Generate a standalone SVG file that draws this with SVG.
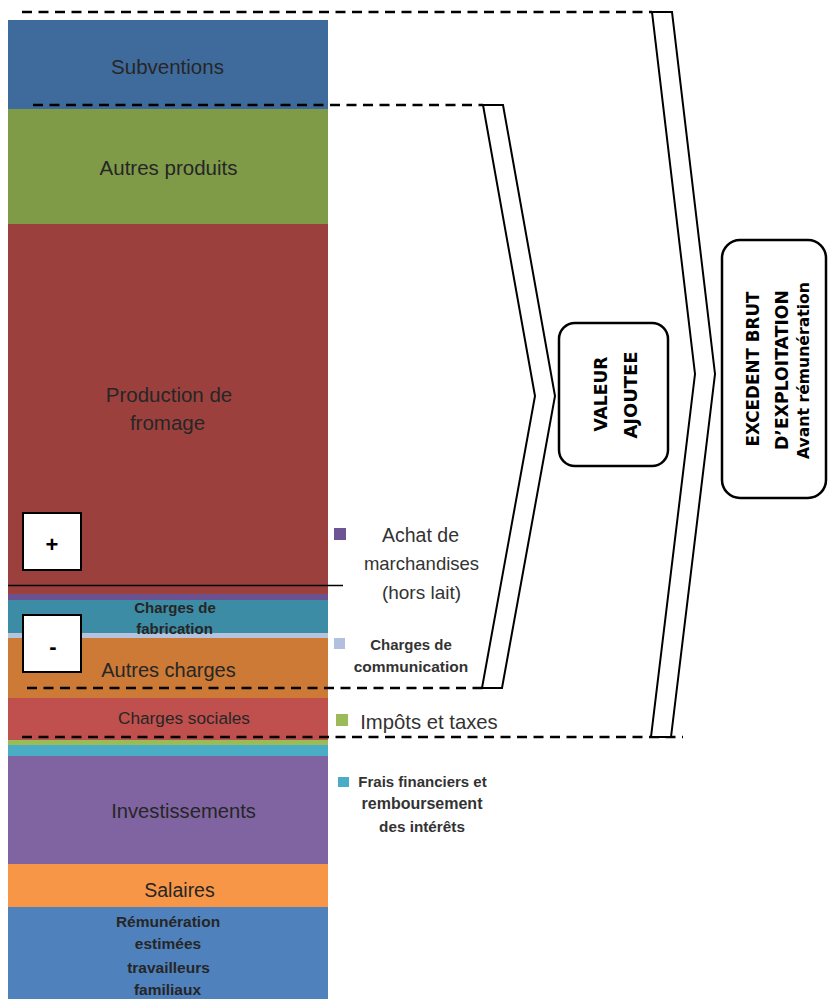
<svg xmlns="http://www.w3.org/2000/svg" width="828" height="999" viewBox="0 0 828 999">
<style>
  .lbl{font-family:"Liberation Sans",Arial,sans-serif;fill:#262626;text-anchor:middle}
  .b{font-weight:bold}
  .leg{font-family:"Liberation Sans",Arial,sans-serif;fill:#333333;text-anchor:middle}
  .vt{font-family:"DejaVu Sans","Liberation Sans",sans-serif;font-weight:bold;fill:#000;text-anchor:middle}
  .dash{stroke:#000;stroke-width:2.6;stroke-dasharray:10 6.5;fill:none}
  .chev{fill:#fff;stroke:#000;stroke-width:2;stroke-linejoin:miter}
  .box{fill:#fff;stroke:#000;stroke-width:2.5}
  .sign{fill:#fff;stroke:#000;stroke-width:2}
</style>
<rect width="828" height="999" fill="#fff"/>

<g id="bar">
  <g id="subventions"><rect x="8" y="20" width="320" height="89" fill="#3F6B9C"/><text class="lbl" x="167.5" y="74" font-size="20.5">Subventions</text></g>
  <g id="autres-produits"><rect x="8" y="109" width="320" height="115" fill="#7F9B48"/><text class="lbl" x="168.5" y="175" font-size="20.5">Autres produits</text></g>
  <g id="production-fromage"><rect x="8" y="224" width="320" height="370" fill="#9C403E"/><text class="lbl" x="169" y="402" font-size="20.5">Production de</text><text class="lbl" x="167.5" y="430" font-size="20.5">fromage</text></g>
  <g id="achat-marchandises-band"><rect x="8" y="594" width="320" height="6" fill="#6B5190"/></g>
  <g id="charges-fabrication"><rect x="8" y="600" width="320" height="33" fill="#3D8CA5"/></g>
  <g id="charges-communication-band"><rect x="8" y="633" width="320" height="5" fill="#B4C3DE"/></g>
  <g id="autres-charges"><rect x="8" y="638" width="320" height="60" fill="#CC7A36"/><text class="lbl" x="168.5" y="677" font-size="20">Autres charges</text></g>
  <g id="charges-fabrication-text"><text class="lbl b" x="175" y="613" font-size="15">Charges de</text><text class="lbl b" x="174.5" y="634" font-size="15">fabrication</text></g>
  <g id="charges-sociales"><rect x="8" y="698" width="320" height="42" fill="#C0504D"/><text class="lbl" x="184" y="724" font-size="17.2">Charges sociales</text></g>
  <g id="impots-band"><rect x="8" y="740" width="320" height="5" fill="#9BBB59"/></g>
  <g id="frais-band"><rect x="8" y="745" width="320" height="11" fill="#4BACC6"/></g>
  <g id="investissements"><rect x="8" y="756" width="320" height="108" fill="#8064A2"/><text class="lbl" x="183.5" y="818" font-size="20.2">Investissements</text></g>
  <g id="salaires"><rect x="8" y="864" width="320" height="43" fill="#F79646"/><text class="lbl" x="179.5" y="897" font-size="19.5">Salaires</text></g>
  <g id="remuneration"><rect x="8" y="907" width="320" height="92" fill="#4F81BD"/>
    <text class="lbl b" x="168" y="927" font-size="15.5">Rémunération</text>
    <text class="lbl b" x="168" y="949" font-size="15.5">estimées</text>
    <text class="lbl b" x="168.5" y="973" font-size="15.5">travailleurs</text>
    <text class="lbl b" x="167.5" y="995" font-size="15.5">familiaux</text>
  </g>
</g>

<g id="plus"><rect class="sign" x="23" y="513" width="58" height="57"/><text x="52" y="552" font-family="Liberation Sans,Arial,sans-serif" font-weight="bold" font-size="22" text-anchor="middle">+</text></g>
<g id="minus"><rect class="sign" x="23" y="615" width="58" height="57"/><text x="53" y="654" font-family="Liberation Sans,Arial,sans-serif" font-weight="bold" font-size="22" text-anchor="middle">-</text></g>

<g id="legend">
  <g id="leg-achat"><rect x="334" y="528" width="12" height="12" fill="#6E5494"/>
    <text class="leg" x="420.5" y="541.5" font-size="19.5">Achat de</text>
    <text class="leg" x="421.5" y="570" font-size="18.5">marchandises</text>
    <text class="leg" x="421.5" y="598.5" font-size="19">(hors lait)</text></g>
  <g id="leg-communication"><rect x="334" y="638" width="11" height="11" fill="#B0C0DE"/>
    <text class="leg b" x="411" y="650" font-size="15">Charges de</text>
    <text class="leg b" x="411" y="672" font-size="15.5">communication</text></g>
  <g id="leg-impots"><rect x="336" y="714" width="12" height="12" fill="#9BBB59"/>
    <text class="leg" x="429" y="729" font-size="20.3">Impôts et taxes</text></g>
  <g id="leg-frais"><rect x="338" y="777" width="11" height="10" fill="#4BACC6"/>
    <text class="leg b" x="422.5" y="787" font-size="15">Frais financiers et</text>
    <text class="leg b" x="422" y="809" font-size="16">remboursement</text>
    <text class="leg b" x="422" y="832" font-size="15.3">des intérêts</text></g>
</g>

<g id="connectors">
  <line class="dash" x1="22" y1="12" x2="652" y2="12"/>
  <line class="dash" x1="33" y1="105" x2="483" y2="105"/>
  <line class="dash" x1="27" y1="688" x2="483" y2="688"/>
  <line class="dash" x1="22" y1="737" x2="683" y2="737"/>
  <line x1="8" y1="585.5" x2="343" y2="585.5" stroke="#000" stroke-width="1.6"/>
</g>

<g id="brace-va"><polygon class="chev" points="483,105 503,105 555,396 502,688 482,688 535,396"/></g>
<g id="brace-ebe"><polygon class="chev" points="652,12 672,12 715,374 671,737 651,737 695,374"/></g>

<g id="valeur-ajoutee">
  <rect class="box" x="559" y="323" width="109" height="143" rx="16"/>
  <text class="vt" transform="translate(607,394) rotate(-90)" font-size="18" textLength="75" lengthAdjust="spacingAndGlyphs">VALEUR</text>
  <text class="vt" transform="translate(637,395) rotate(-90)" font-size="18" textLength="87" lengthAdjust="spacingAndGlyphs">AJOUTEE</text>
</g>

<g id="ebe">
  <rect class="box" x="722" y="240" width="104" height="258" rx="18"/>
  <text class="vt" transform="translate(759,369) rotate(-90)" font-size="18" textLength="155" lengthAdjust="spacingAndGlyphs">EXCEDENT BRUT</text>
  <text class="vt" transform="translate(788,370) rotate(-90)" font-size="18" textLength="160" lengthAdjust="spacingAndGlyphs">D’EXPLOITATION</text>
  <text class="vt" transform="translate(809,370.5) rotate(-90)" font-size="15" textLength="177" lengthAdjust="spacingAndGlyphs">Avant rémunération</text>
</g>
</svg>
